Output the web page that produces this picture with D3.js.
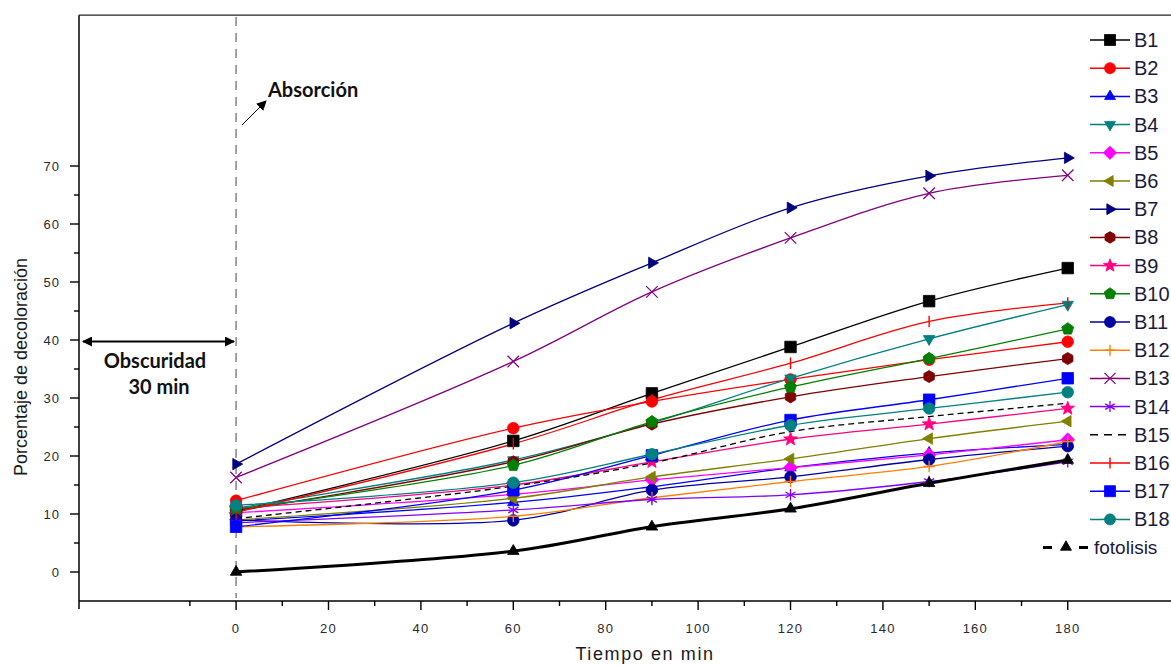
<!DOCTYPE html>
<html>
<head>
<meta charset="utf-8">
<script src="https://cdn.jsdelivr.net/npm/d3@7"></script>
<style>
  html, body { margin: 0; padding: 0; background: #fff; }
  svg { display: block; }
</style>
</head>
<body>
<svg id="chart" width="1171" height="665"></svg>
<script>
// Tiempo (min) de muestreo
const times = [0, 60, 90, 120, 150, 180];

// Porcentaje de decoloración por muestra
const B1  = [10.5, 22.6, 30.8, 38.8, 46.7, 52.4];
const B2  = [12.3, 24.8, 29.4, 33.2, 36.6, 39.7];
const B3  = [8.8, 12.0, 14.7, 18.0, 20.5, 22.0];
const B4  = [11.0, 19.3, 25.7, 33.4, 40.2, 46.1];
const B5  = [10.2, 13.4, 15.9, 18.0, 20.2, 22.8];
const B6  = [9.0, 12.7, 16.4, 19.5, 23.0, 26.0];
const B7  = [18.6, 42.9, 53.3, 62.8, 68.3, 71.4];
const B8  = [10.5, 19.0, 25.5, 30.2, 33.7, 36.8];
const B9  = [11.0, 15.0, 19.0, 22.9, 25.5, 28.2];
const B10 = [10.8, 18.4, 25.9, 31.9, 36.8, 41.9];
const B11 = [9.0, 8.9, 14.1, 16.4, 19.4, 21.7];
const B12 = [7.8, 9.6, 12.8, 15.6, 18.2, 22.5];
const B13 = [16.3, 36.3, 48.3, 57.6, 65.3, 68.4];
const B14 = [8.5, 10.7, 12.5, 13.3, 15.6, 19.0];
const B15 = [9.2, 14.8, 18.8, 24.2, 26.8, 29.1];
const B16 = [10.3, 22.1, 29.7, 36.0, 43.2, 46.4];
const B17 = [7.8, 14.1, 20.1, 26.2, 29.7, 33.4];
const B18 = [11.5, 15.4, 20.3, 25.3, 28.2, 31.0];
const fotolisis = [0, 3.6, 7.8, 10.9, 15.3, 19.3];

const seriesNames = ["B1","B2","B3","B4","B5","B6","B7","B8","B9","B10",
                     "B11","B12","B13","B14","B15","B16","B17","B18","fotolisis"];
const seriesValues = [B1,B2,B3,B4,B5,B6,B7,B8,B9,B10,B11,B12,B13,B14,B15,B16,B17,B18,fotolisis];

// Etiquetas de los ejes
const xTickLabels = [0, 20, 40, 60, 80, 100, 120, 140, 160, 180];
const xMinorTicks = [-10, 10, 30, 50, 70, 90, 110, 130, 150, 170];
const yTickLabels = [0, 10, 20, 30, 40, 50, 60, 70];
const yMinorTicks = [5, 15, 25, 35, 45, 55, 65];

// Estilo de cada serie: color, marcador, trazo
const styles = {
  B1:  { color: "#000000", sym: "square" },
  B2:  { color: "#ff0000", sym: "circle" },
  B3:  { color: "#0000ff", sym: "triUp" },
  B4:  { color: "#008080", sym: "triDown" },
  B5:  { color: "#ff00ff", sym: "diamond" },
  B6:  { color: "#808000", sym: "triLeft" },
  B7:  { color: "#000080", sym: "triRight" },
  B8:  { color: "#800000", sym: "hexagon" },
  B9:  { color: "#ff0080", sym: "star" },
  B10: { color: "#008000", sym: "pentagon" },
  B11: { color: "#0000a0", sym: "circle" },
  B12: { color: "#ff8000", sym: "plus" },
  B13: { color: "#800080", sym: "cross" },
  B14: { color: "#8000ff", sym: "asterisk" },
  B15: { color: "#000000", sym: "none", dash: "6,4" },
  B16: { color: "#ff0000", sym: "vbar" },
  B17: { color: "#0000ff", sym: "square" },
  B18: { color: "#008080", sym: "circle" },
  fotolisis: { color: "#000000", sym: "triUp", width: 3 }
};

const svg = d3.select("#chart");

const x = d3.scaleLinear().domain([-34, 203]).range([79, 1174]);
const y = d3.scaleLinear().domain([-5, 96]).range([601, 15.2]);

const axisColor = "#000";
const tickFont = "'Liberation Sans', Arial, sans-serif";

// Marco superior
svg.append("line")
  .attr("x1", 79).attr("x2", 1171)
  .attr("y1", y(96)).attr("y2", y(96))
  .attr("stroke", "#222").attr("stroke-width", 1.2);

// Línea vertical punteada en t = 0
svg.append("line")
  .attr("x1", x(0)).attr("x2", x(0))
  .attr("y1", 17).attr("y2", 598)
  .attr("stroke", "#8c8c8c").attr("stroke-width", 1.6)
  .attr("stroke-dasharray", "9,7");

// Eje X
const gx = svg.append("g");
gx.append("line")
  .attr("x1", 79).attr("x2", 1171)
  .attr("y1", y(-5)).attr("y2", y(-5))
  .attr("stroke", axisColor).attr("stroke-width", 1.5);
gx.selectAll(".xmaj").data(xTickLabels).enter().append("line")
  .attr("x1", d => x(d)).attr("x2", d => x(d))
  .attr("y1", y(-5)).attr("y2", y(-5) + 9)
  .attr("stroke", axisColor).attr("stroke-width", 1.4);
gx.selectAll(".xmin").data(xMinorTicks).enter().append("line")
  .attr("x1", d => x(d)).attr("x2", d => x(d))
  .attr("y1", y(-5)).attr("y2", y(-5) + 5)
  .attr("stroke", axisColor).attr("stroke-width", 1.4);
gx.selectAll(".xlab").data(xTickLabels).enter().append("text")
  .attr("x", d => x(d)).attr("y", 633)
  .attr("text-anchor", "middle")
  .attr("font-family", tickFont).attr("font-size", 13)
  .attr("letter-spacing", 1.2)
  .attr("fill", "#2a2a2a")
  .text(d => d);

// Eje Y
const gy = svg.append("g");
gy.append("line")
  .attr("x1", 79).attr("x2", 79)
  .attr("y1", y(96)).attr("y2", y(-5) + 8)
  .attr("stroke", axisColor).attr("stroke-width", 1.5);
gy.selectAll(".ymaj").data(yTickLabels).enter().append("line")
  .attr("x1", 70).attr("x2", 79)
  .attr("y1", d => y(d)).attr("y2", d => y(d))
  .attr("stroke", axisColor).attr("stroke-width", 1.4);
gy.selectAll(".ymin").data(yMinorTicks).enter().append("line")
  .attr("x1", 74).attr("x2", 79)
  .attr("y1", d => y(d)).attr("y2", d => y(d))
  .attr("stroke", axisColor).attr("stroke-width", 1.4);
gy.selectAll(".ylab").data(yTickLabels).enter().append("text")
  .attr("x", 60).attr("y", d => y(d) + 4.5)
  .attr("text-anchor", "end")
  .attr("font-family", tickFont).attr("font-size", 13)
  .attr("letter-spacing", 1)
  .attr("fill", "#2a2a2a")
  .text(d => d);

// Títulos de los ejes
svg.append("text")
  .attr("x", 645).attr("y", 660)
  .attr("text-anchor", "middle")
  .attr("font-family", tickFont).attr("font-size", 18)
  .attr("letter-spacing", 1.6)
  .attr("fill", "#1a1a1a")
  .text("Tiempo en min");
svg.append("text")
  .attr("transform", "translate(27,367) rotate(-90)")
  .attr("text-anchor", "middle")
  .attr("font-family", tickFont).attr("font-size", 18)
  .attr("fill", "#1a1a1a")
  .text("Porcentaje de decoloración");

// Generador de marcadores
function polygon(n, r, rot) {
  const pts = [];
  for (let i = 0; i < n; i++) {
    const a = rot + i * 2 * Math.PI / n;
    pts.push([r * Math.cos(a), r * Math.sin(a)]);
  }
  return "M" + pts.map(p => p[0].toFixed(2) + "," + p[1].toFixed(2)).join("L") + "Z";
}
function starPath(r) {
  const pts = [];
  for (let i = 0; i < 10; i++) {
    const rr = i % 2 === 0 ? r : r * 0.42;
    const a = -Math.PI / 2 + i * Math.PI / 5;
    pts.push([rr * Math.cos(a), rr * Math.sin(a)]);
  }
  return "M" + pts.map(p => p[0].toFixed(2) + "," + p[1].toFixed(2)).join("L") + "Z";
}
function drawMarker(g, sym, color, cx, cy, s) {
  const t = `translate(${cx},${cy})`;
  const filled = (d) => g.append("path").attr("d", d).attr("transform", t)
    .attr("fill", color).attr("stroke", color).attr("stroke-width", 0.8);
  const stroked = (d, w) => g.append("path").attr("d", d).attr("transform", t)
    .attr("fill", "none").attr("stroke", color).attr("stroke-width", w || 1.4);
  const h = s / 2;
  switch (sym) {
    case "square": filled(`M${-h},${-h}H${h}V${h}H${-h}Z`); break;
    case "circle": filled(polygon(24, h, 0)); break;
    case "triUp": filled(polygon(3, h * 1.15, -Math.PI / 2)); break;
    case "triDown": filled(polygon(3, h * 1.15, Math.PI / 2)); break;
    case "triLeft": filled(polygon(3, h * 1.15, Math.PI)); break;
    case "triRight": filled(polygon(3, h * 1.15, 0)); break;
    case "diamond": filled(polygon(4, h * 1.2, 0)); break;
    case "hexagon": filled(polygon(6, h * 1.05, Math.PI / 6)); break;
    case "pentagon": filled(polygon(5, h * 1.1, -Math.PI / 2)); break;
    case "star": filled(starPath(h * 1.25)); break;
    case "plus": stroked(`M${-h},0H${h}M0,${-h}V${h}`); break;
    case "cross": stroked(`M${-h},${-h}L${h},${h}M${-h},${h}L${h},${-h}`, 1.2); break;
    case "asterisk": {
      const a = h * 0.87, b = h * 0.5;
      stroked(`M0,${-h}V${h}M${-a},${-b}L${a},${b}M${-a},${b}L${a},${-b}`, 1.3);
      break;
    }
    case "vbar": stroked(`M0,${-h}V${h}`, 1.4); break;
    default: break;
  }
}

// Curvas suavizadas de cada serie
const line = d3.line()
  .x(d => x(d[0]))
  .y(d => y(d[1]))
  .curve(d3.curveCatmullRom.alpha(0.5));

const plot = svg.append("g");
seriesNames.forEach((name, i) => {
  const st = styles[name];
  const pts = times.map((t, j) => [t, seriesValues[i][j]]);
  plot.append("path")
    .datum(pts)
    .attr("d", line)
    .attr("fill", "none")
    .attr("stroke", st.color)
    .attr("stroke-width", st.width || 1.3)
    .attr("stroke-dasharray", st.dash || null);
});
seriesNames.forEach((name, i) => {
  const st = styles[name];
  const g = plot.append("g");
  times.forEach((t, j) => {
    drawMarker(g, st.sym, st.color, x(t), y(seriesValues[i][j]), 11.5);
  });
});

// Leyenda
const legend = svg.append("g");
const legendFont = "'Liberation Sans', Arial, sans-serif";
seriesNames.forEach((name, i) => {
  const st = styles[name];
  const cy = 40 + i * 28.2;
  if (name === "fotolisis") {
    legend.append("path")
      .attr("d", `M1043,${cy}H1052M1079,${cy}H1088`)
      .attr("stroke", "#000").attr("stroke-width", 3);
    drawMarker(legend, st.sym, st.color, 1066, cy - 0.5, 11);
    legend.append("text")
      .attr("x", 1094).attr("y", cy + 6.5)
      .attr("font-family", legendFont).attr("font-size", 19)
      .attr("fill", "#1a1a3a")
      .text(name);
  } else {
    if (st.dash) {
      legend.append("line")
        .attr("x1", 1090).attr("x2", 1130).attr("y1", cy).attr("y2", cy)
        .attr("stroke", st.color).attr("stroke-width", 1.5)
        .attr("stroke-dasharray", "8,6");
    } else {
      legend.append("path")
        .attr("d", `M1090,${cy}H1102M1118,${cy}H1130`)
        .attr("stroke", st.color).attr("stroke-width", 1.5);
      legend.append("line")
        .attr("x1", 1102).attr("x2", 1118).attr("y1", cy).attr("y2", cy)
        .attr("stroke", st.color).attr("stroke-width", 1.5);
    }
    drawMarker(legend, st.sym, st.color, 1110, cy, 11);
    legend.append("text")
      .attr("x", 1134).attr("y", cy + 7)
      .attr("font-family", legendFont).attr("font-size", 20)
      .attr("fill", "#1a1a3a")
      .text(name);
  }
});

// Anotaciones
const defs = svg.append("defs");
defs.append("marker")
  .attr("id", "head").attr("viewBox", "0 0 10 10")
  .attr("refX", 9).attr("refY", 5)
  .attr("markerWidth", 10).attr("markerHeight", 10)
  .attr("markerUnits", "userSpaceOnUse")
  .attr("orient", "auto-start-reverse")
  .append("path").attr("d", "M0,0L10,5L0,10Z").attr("fill", "#000");

svg.append("line")
  .attr("x1", 242).attr("y1", 125).attr("x2", 266).attr("y2", 101)
  .attr("stroke", "#000").attr("stroke-width", 1)
  .attr("marker-end", "url(#head)");

svg.append("text")
  .attr("x", 268).attr("y", 97)
  .attr("font-family", "Lato, 'Open Sans', sans-serif")
  .attr("font-weight", 700).attr("font-size", 20)
  .attr("fill", "#111")
  .text("Absorción");

svg.append("line")
  .attr("x1", 83).attr("x2", 234)
  .attr("y1", y(40) + 1.5).attr("y2", y(40) + 1.5)
  .attr("stroke", "#000").attr("stroke-width", 2)
  .attr("marker-start", "url(#head)")
  .attr("marker-end", "url(#head)");

svg.append("text")
  .attr("x", 155).attr("y", 368)
  .attr("text-anchor", "middle")
  .attr("font-family", "Lato, 'Open Sans', sans-serif")
  .attr("font-weight", 700).attr("font-size", 20)
  .attr("fill", "#111")
  .text("Obscuridad");
svg.append("text")
  .attr("x", 159).attr("y", 394)
  .attr("text-anchor", "middle")
  .attr("font-family", "Lato, 'Open Sans', sans-serif")
  .attr("font-weight", 700).attr("font-size", 20)
  .attr("fill", "#111")
  .text("30 min");
</script>
</body>
</html>
